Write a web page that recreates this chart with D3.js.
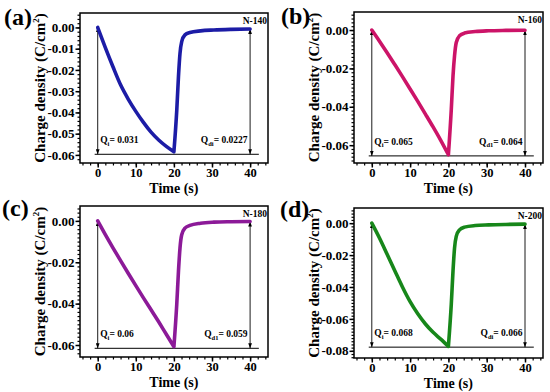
<!DOCTYPE html>
<html>
<head>
<meta charset="utf-8">
<script src="https://cdn.jsdelivr.net/npm/d3@7"></script>
<style>
  body { margin: 0; background: #fff; }
  svg { display: block; }
  text { font-family: "Liberation Serif", "Times New Roman", serif; font-weight: bold; fill: #000; }
</style>
</head>
<body>
<div id="chart"></div>
<script>
// time axis shared by all four runs (s)
const time = [0, 2, 4, 6, 8, 10, 12, 14, 16, 18, 20, 20.75, 21.2, 21.6, 22.05, 22.9, 24.2, 27, 30.5, 35, 40];

// charge density (C/cm2)
const n140 = [0, -0.0095, -0.0185, -0.027, -0.0337, -0.0395, -0.0447, -0.0493, -0.053, -0.056, -0.0585,
              -0.039, -0.023, -0.0122, -0.0067, -0.0035, -0.0024, -0.0016, -0.0012, -0.0009, -0.0007];
const n160 = [0, -0.0058, -0.0118, -0.018, -0.0243, -0.0307, -0.0372, -0.0438, -0.0505, -0.0575, -0.065,
              -0.0415, -0.024, -0.0135, -0.0065, -0.003, -0.0016, -0.0008, -0.0004, -0.0002, -0.0001];
const n180 = [0, -0.0066, -0.013, -0.0192, -0.0253, -0.0313, -0.0372, -0.043, -0.0488, -0.0548, -0.0608,
              -0.0403, -0.0243, -0.0131, -0.0067, -0.0035, -0.0022, -0.0011, -0.0006, -0.0004, -0.0003];
const n200 = [0, -0.0093, -0.0195, -0.0298, -0.04, -0.0492, -0.0568, -0.0632, -0.0684, -0.0727, -0.0772,
              -0.0509, -0.0301, -0.0156, -0.0083, -0.0042, -0.0025, -0.0015, -0.0011, -0.0008, -0.0006];

const names = ["N-140", "N-160", "N-180", "N-200"];
const tags = ["(a)", "(b)", "(c)", "(d)"];
const qiText = ["0.031", "0.065", "0.06", "0.068"];
const qdText = ["0.0227", "0.064", "0.059", "0.066"];
const qdSub = ["di", "d1", "d1", "di"];
const baselines = [-0.0597, -0.0656, -0.0616, -0.0777];
const xTicks = [0, 10, 20, 30, 40];
const yTicks = [
  [0, -0.01, -0.02, -0.03, -0.04, -0.05, -0.06],
  [0, -0.02, -0.04, -0.06],
  [0, -0.02, -0.04, -0.06],
  [0, -0.02, -0.04, -0.06, -0.08]
];

const series = [n140, n160, n180, n200];
const colors = ["#1c1ca6", "#cc1468", "#8c1a98", "#17871a"];
const FONT = "'Liberation Serif', 'Times New Roman', serif";

// plot boxes in page pixels
const boxes = [
  { x0: 80,  x1: 268, y0: 13,  y1: 163, yd: [-0.0638, 0.0068], tx: 4,   ty: 25 },
  { x0: 354, x1: 543, y0: 12,  y1: 163, yd: [-0.0693, 0.0094], tx: 281, ty: 24 },
  { x0: 80,  x1: 268, y0: 206, y1: 357, yd: [-0.0658, 0.0072], tx: 2,   ty: 216 },
  { x0: 354, x1: 543, y0: 208, y1: 358, yd: [-0.0845, 0.0095], tx: 280, ty: 217 }
];

const svg = d3.select("#chart").append("svg")
    .attr("width", 550)
    .attr("height", 392);

const defs = svg.append("defs");
defs.append("marker")
    .attr("id", "arr")
    .attr("viewBox", "0 0 8 6")
    .attr("refX", 8)
    .attr("refY", 3)
    .attr("markerWidth", 5)
    .attr("markerHeight", 4)
    .attr("markerUnits", "userSpaceOnUse")
    .attr("orient", "auto-start-reverse")
  .append("path")
    .attr("d", "M0,0L8,3L0,6Z")
    .attr("fill", "#000");

series.forEach((vals, i) => {
  const b = boxes[i];
  const x = d3.scaleLinear().domain([-4.65, 44.7]).range([b.x0, b.x1]);
  const y = d3.scaleLinear().domain(b.yd).range([b.y1, b.y0]);
  const g = svg.append("g");

  // minor ticks
  const xMinor = d3.range(-4, 45, 2);
  g.append("g")
      .attr("transform", `translate(0,${b.y1})`)
      .call(d3.axisBottom(x).tickValues(xMinor).tickSize(2.5).tickFormat(""))
      .call(s => s.select(".domain").remove())
      .selectAll("line").attr("stroke-width", 1.2);

  const k0 = Math.ceil(b.yd[0] / 0.002), k1 = Math.floor(b.yd[1] / 0.002);
  const yMinor = d3.range(k0, k1 + 1).map(k => k * 0.002);
  g.append("g")
      .attr("transform", `translate(${b.x0},0)`)
      .call(d3.axisLeft(y).tickValues(yMinor).tickSize(2.5).tickFormat(""))
      .call(s => s.select(".domain").remove())
      .selectAll("line").attr("stroke-width", 1.2);

  // major axes
  const xa = g.append("g")
      .attr("transform", `translate(0,${b.y1})`)
      .call(d3.axisBottom(x).tickValues(xTicks).tickSize(4.5).tickPadding(0.5).tickFormat(d3.format("d")));
  xa.attr("font-family", FONT).attr("font-size", 12.5).attr("font-weight", "bold");
  xa.select(".domain").remove();
  xa.selectAll("line").attr("stroke-width", 1.5);

  const ya = g.append("g")
      .attr("transform", `translate(${b.x0},0)`)
      .call(d3.axisLeft(y).tickValues(yTicks[i]).tickSize(4.5).tickPadding(1)
        .tickFormat(d => d === 0 ? "0.00" : d3.format(".2f")(d).replace("−", "-")));
  ya.attr("font-family", FONT).attr("font-size", 13).attr("font-weight", "bold");
  ya.select(".domain").remove();
  ya.selectAll("line").attr("stroke-width", 1.5);

  // frame
  g.append("rect")
      .attr("x", b.x0).attr("y", b.y0)
      .attr("width", b.x1 - b.x0).attr("height", b.y1 - b.y0)
      .attr("fill", "none").attr("stroke", "#000").attr("stroke-width", 1.5);

  // baseline and arrows
  const base = baselines[i];
  g.append("line")
      .attr("x1", x(-0.8)).attr("x2", x(42.3))
      .attr("y1", y(base)).attr("y2", y(base))
      .attr("stroke", "#000").attr("stroke-width", 1);

  const endVal = vals[vals.length - 1];
  [[0, vals[0]], [40, endVal]].forEach(([t, v]) => {
    g.append("line")
        .attr("x1", x(t)).attr("x2", x(t))
        .attr("y1", y(v)).attr("y2", y(base))
        .attr("stroke", "#000").attr("stroke-width", 0.9)
        .attr("marker-start", "url(#arr)")
        .attr("marker-end", "url(#arr)");
  });

  // curve: charging and discharging drawn as two smooth pieces so the tip stays sharp
  const pts = vals.map((v, j) => [time[j], v]);
  const turn = time.indexOf(20);
  const line = d3.line()
      .x(d => x(d[0]))
      .y(d => y(d[1]))
      .curve(d3.curveMonotoneX);
  g.append("path")
      .attr("d", line(pts.slice(0, turn + 1)) + line(pts.slice(turn)))
      .attr("fill", "none")
      .attr("stroke", colors[i])
      .attr("stroke-width", 3.6)
      .attr("stroke-linejoin", "round")
      .attr("stroke-linecap", "round");

  // annotations
  const qy = y(base) - 11;
  const qi = g.append("text").attr("x", x(0) + 2.5).attr("y", qy).attr("font-size", 9.5);
  qi.append("tspan").text("Q");
  qi.append("tspan").attr("font-size", 6.5).attr("dy", 2.5).text("i");
  qi.append("tspan").attr("dy", -2.5).text("= " + qiText[i]);

  const qd = g.append("text").attr("x", x(40) - 2.5).attr("y", qy)
      .attr("font-size", 9.5).attr("text-anchor", "end");
  qd.append("tspan").text("Q");
  qd.append("tspan").attr("font-size", 6.5).attr("dy", 2.5).text(qdSub[i]);
  qd.append("tspan").attr("dy", -2.5).text("= " + qdText[i]);

  g.append("text")
      .attr("x", b.x1 - 1).attr("y", b.y0 + 11)
      .attr("text-anchor", "end").attr("font-size", 9.5)
      .text(names[i]);

  // axis titles
  g.append("text")
      .attr("x", (x(0) + x(40)) / 2).attr("y", b.y1 + 30)
      .attr("text-anchor", "middle").attr("font-size", 14)
      .text("Time (s)");

  const yl = g.append("text")
      .attr("transform", `translate(${b.x0 - 35},${(b.y0 + b.y1) / 2}) rotate(-90)`)
      .attr("text-anchor", "middle").attr("font-size", 15);
  yl.append("tspan").text("Charge density (C/cm");
  yl.append("tspan").attr("font-size", 9).attr("dy", -6).text("2");
  yl.append("tspan").attr("dy", 6).text(")");

  svg.append("text")
      .attr("x", b.tx).attr("y", b.ty)
      .attr("font-size", 24)
      .text(tags[i]);
});
</script>
</body>
</html>
